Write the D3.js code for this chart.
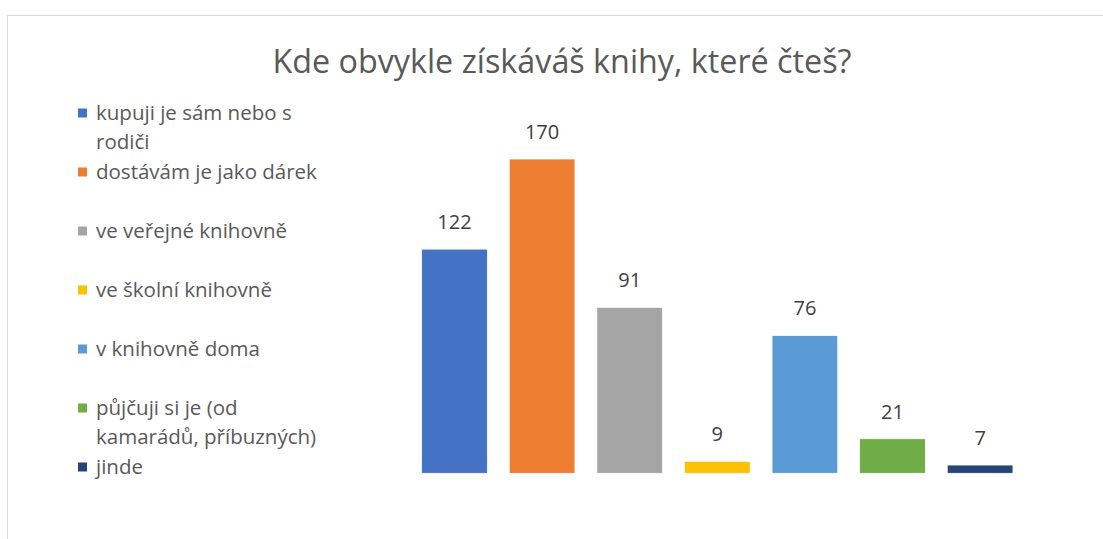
<!DOCTYPE html>
<html>
<head>
<meta charset="utf-8">
<script src="https://cdn.jsdelivr.net/npm/d3@7"></script>
<style>
  body { margin: 0; background: #fff; }
  svg { display: block; font-family: "Open Sans", sans-serif; }
  .graph-title { fill: #595959; font-size: 32.3px; text-anchor: middle; }
  .legend-text { fill: #595959; font-size: 20.5px; }
  .bar-label { fill: #404040; font-size: 20px; text-anchor: middle; }
</style>
</head>
<body>
<svg></svg>
<script>
// chart data
var categories = [
  "kupuji je sám nebo s rodiči",
  "dostávám je jako dárek",
  "ve veřejné knihovně",
  "ve školní knihovně",
  "v knihovně doma",
  "půjčuji si je (od kamarádů, příbuzných)",
  "jinde"
];
var values = [122, 170, 91, 9, 76, 21, 7];
// legend lines as wrapped in the original
var legendLines = [
  ["kupuji je sám nebo s", "rodiči"],
  ["dostávám je jako dárek"],
  ["ve veřejné knihovně"],
  ["ve školní knihovně"],
  ["v knihovně doma"],
  ["půjčuji si je (od", "kamarádů, příbuzných)"],
  ["jinde"]
];
var colors = ["#4472C4", "#ED7D31", "#A5A5A5", "#FFC000", "#5B9BD5", "#70AD47", "#264478"];
var title = "Kde obvykle získáváš knihy, které čteš?";

document.addEventListener("DOMContentLoaded", function() {
  drawChart();
});

function drawChart() {
  var svgWidth = 1103, svgHeight = 539;
  var svg = d3.select('svg')
    .attr("width", svgWidth)
    .attr("height", svgHeight);

  // chart frame (runs off the right and bottom edge)
  svg.append('rect')
    .attr('x', 7.5)
    .attr('y', 15.5)
    .attr('width', 1110)
    .attr('height', 540)
    .attr('fill', 'none')
    .attr('stroke', '#D9D9D9')
    .attr('stroke-width', 1);

  // title
  svg.append('text')
    .attr('class', 'graph-title')
    .attr('x', 562)
    .attr('y', 73)
    .text(title);

  // scales
  var x = d3.scaleBand()
    .domain(categories)
    .range([410.7, 1023.9])
    .paddingInner(0.25)
    .paddingOuter(0.125);

  var y = d3.scaleLinear()
    .domain([2.6, 170])
    .range([473.3, 159]);

  var data = categories.map((c, i) => ({ cat: c, value: values[i], color: colors[i] }));

  // bars
  svg.selectAll('.graph-bar')
    .data(data)
    .enter()
    .append('rect')
    .attr('class', 'graph-bar')
    .attr('x', (d) => x(d.cat))
    .attr('y', (d) => y(d.value))
    .attr('width', x.bandwidth())
    .attr('height', (d) => y.range()[0] - y(d.value))
    .attr('fill', (d) => d.color)
    .attr('stroke', '#fff')
    .attr('stroke-width', 0.75);

  // value labels
  svg.selectAll('.bar-label')
    .data(data)
    .enter()
    .append('text')
    .attr('class', 'bar-label')
    .attr('x', (d) => x(d.cat) + x.bandwidth() / 2)
    .attr('y', (d) => y(d.value) - 20)
    .text((d) => d.value);

  // legend
  var ly = d3.scalePoint()
    .domain(categories)
    .range([113, 467]);

  var legend = svg.selectAll('.legend-item')
    .data(data)
    .enter()
    .append('g')
    .attr('class', 'legend-item')
    .attr('transform', (d) => `translate(78, ${ly(d.cat)})`);

  legend.append('rect')
    .attr('x', 0)
    .attr('y', -4.5)
    .attr('width', 9)
    .attr('height', 9)
    .attr('fill', (d) => d.color);

  legend.each(function(d, i) {
    var g = d3.select(this);
    legendLines[i].forEach(function(line, j) {
      g.append('text')
        .attr('class', 'legend-text')
        .attr('x', 18)
        .attr('y', 7 + j * 28.5)
        .text(line);
    });
  });
}
</script>
</body>
</html>
